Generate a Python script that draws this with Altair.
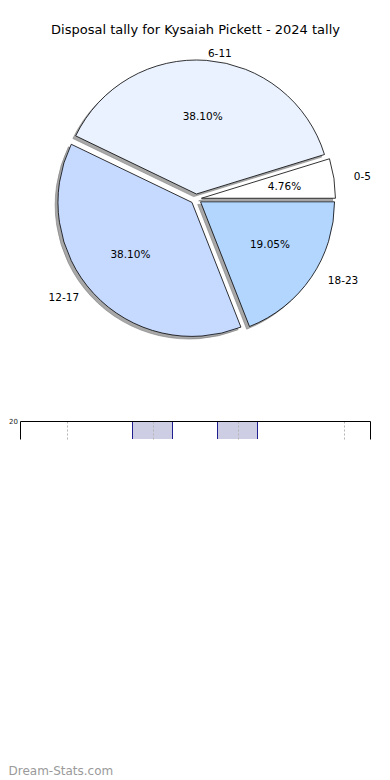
import altair as alt
import pandas as pd

# ---- data ----
TITLE = "Disposal tally for Kysaiah Pickett - 2024 tally"
categories = ["0-5", "6-11", "12-17", "18-23"]
counts = [1, 8, 8, 4]
slice_colors = ["#ffffff", "#eaf2ff", "#c6d9ff", "#b3d6ff"]

bar_positions = [3, 5]
bar_values = [20, 20]
grid_ticks = [1, 3, 5, 7.5]
y_tick_values = [20]
WATERMARK = "Dream-Stats.com"

FONT = "DejaVu Sans"

# ---- pie geometry (styles) ----
CX, CY = 176, 191        # pie centre inside the top panel (px)
R = 134                  # arc radius
RX, RY = 140, 128        # label radii basis
EX, EY = 5.5, 5.0        # explode offset
SHX, SHY = -2.8, 2.6     # shadow offset

pie_df = pd.DataFrame({"cat": categories, "n": counts, "order": list(range(len(categories)))})

base = (
    alt.Chart(pie_df)
    .transform_joinaggregate(total="sum(n)")
    .transform_window(cum="sum(n)", sort=[alt.SortField("order")], frame=[None, 0])
    .transform_calculate(a0="2*PI*(datum.cum - datum.n)/datum.total")
    .transform_calculate(a1="2*PI*datum.cum/datum.total")
    .transform_calculate(mid="(datum.a0 + datum.a1)/2")
    .transform_calculate(t1="PI/2 - datum.a1")
    .transform_calculate(t2="PI/2 - datum.a0")
    .transform_calculate(cx=f"{CX} + {EX}*cos(datum.mid)")
    .transform_calculate(cy=f"{CY} - {EY}*sin(datum.mid)")
    .transform_calculate(sx=f"datum.cx + ({SHX})")
    .transform_calculate(sy=f"datum.cy + ({SHY})")
    .transform_calculate(px=f"datum.cx + 0.6*{RX}*cos(datum.mid)")
    .transform_calculate(py=f"datum.cy - 0.6*{RY}*sin(datum.mid)")
    .transform_calculate(lx=f"datum.cx + 1.1*{RX}*cos(datum.mid)")
    .transform_calculate(ly=f"datum.cy - 1.1*{RY}*sin(datum.mid)")
    .transform_calculate(pct="format(100*datum.n/datum.total, '.2f') + '%'")
)

shadow = base.mark_arc(radius=R, fill="#9a9a9a", opacity=0.85, stroke="#6a6a6a", strokeWidth=0.6).encode(
    theta=alt.Theta("t1:Q", scale=None),
    theta2="t2:Q",
    x=alt.X("sx:Q", scale=None),
    y=alt.Y("sy:Q", scale=None),
)

slices = base.mark_arc(radius=R, stroke="black", strokeWidth=0.8).encode(
    theta=alt.Theta("t1:Q", scale=None),
    theta2="t2:Q",
    x=alt.X("cx:Q", scale=None),
    y=alt.Y("cy:Q", scale=None),
    fill=alt.Fill("cat:N", scale=alt.Scale(domain=categories, range=slice_colors), legend=None),
)

pct_text = base.mark_text(font=FONT, fontSize=10.5, color="black", align="center", baseline="middle").encode(
    x=alt.X("px:Q", scale=None),
    y=alt.Y("py:Q", scale=None),
    text="pct:N",
)

labels_right = base.transform_filter("cos(datum.mid) >= 0").mark_text(
    font=FONT, fontSize=10.5, color="black", align="left", baseline="middle"
).encode(x=alt.X("lx:Q", scale=None), y=alt.Y("ly:Q", scale=None), text="cat:N")

labels_left = base.transform_filter("cos(datum.mid) < 0").mark_text(
    font=FONT, fontSize=10.5, color="black", align="right", baseline="middle"
).encode(x=alt.X("lx:Q", scale=None), y=alt.Y("ly:Q", scale=None), text="cat:N")

title = alt.Chart(pd.DataFrame({"t": [TITLE]})).mark_text(
    font=FONT, fontSize=13, color="black", align="center", baseline="middle"
).encode(text="t:N", x=alt.value(175.5), y=alt.value(22))

pie = alt.layer(shadow, slices, pct_text, labels_right, labels_left, title).properties(width=350, height=413)

# ---- clipped bar panel ----
bar_df = pd.DataFrame({"pos": bar_positions, "val": bar_values})

xscale = alt.Scale(domain=[0, 8], nice=False, zero=False)
yscale = alt.Scale(domain=[19, 20], nice=False, zero=False)

top_axis = alt.Axis(
    orient="top", values=grid_ticks, labels=False, ticks=False, domain=True,
    domainColor="black", domainWidth=1, grid=True, gridDash=[2, 2], gridColor="#b5b5b5",
    gridWidth=1, title=None, zindex=1)

bars = alt.Chart(bar_df).mark_bar(size=40, fill="#cdcde4", stroke="#1f1f8f", strokeWidth=1, clip=True).encode(
    x=alt.X("pos:Q", scale=xscale, axis=top_axis),
    y=alt.Y("val:Q", scale=yscale, axis=alt.Axis(
        values=y_tick_values, title=None, ticks=False, labelFontSize=7, labelFont=FONT,
        labelColor="#222", labelPadding=2.6, domainColor="black", domainWidth=1, grid=False)),
)

right_frame = alt.Chart(bar_df).mark_bar(size=40, opacity=0, clip=True).encode(
    x=alt.X("pos:Q", scale=xscale, axis=top_axis),
    y=alt.Y("val:Q", scale=yscale, axis=alt.Axis(
        orient="right", values=y_tick_values, labels=False, ticks=False, title=None,
        domainColor="black", domainWidth=1, grid=False)),
)

mark_wm = alt.Chart(pd.DataFrame({"w": [WATERMARK]})).mark_text(
    font=FONT, fontSize=12, color="#9a9a9a", align="left", baseline="middle"
).encode(text="w:N", x=alt.value(-11.5), y=alt.value(350))

bar_panel = alt.layer(bars, right_frame, mark_wm).resolve_axis(y="independent").properties(width=350, height=18)

chart = (
    alt.vconcat(pie, bar_panel, spacing=0, bounds="flush")
    .properties(padding=0)
    .configure_view(stroke=None)
)

chart.save("out.html", embed_options={"renderer": "svg", "actions": False})
